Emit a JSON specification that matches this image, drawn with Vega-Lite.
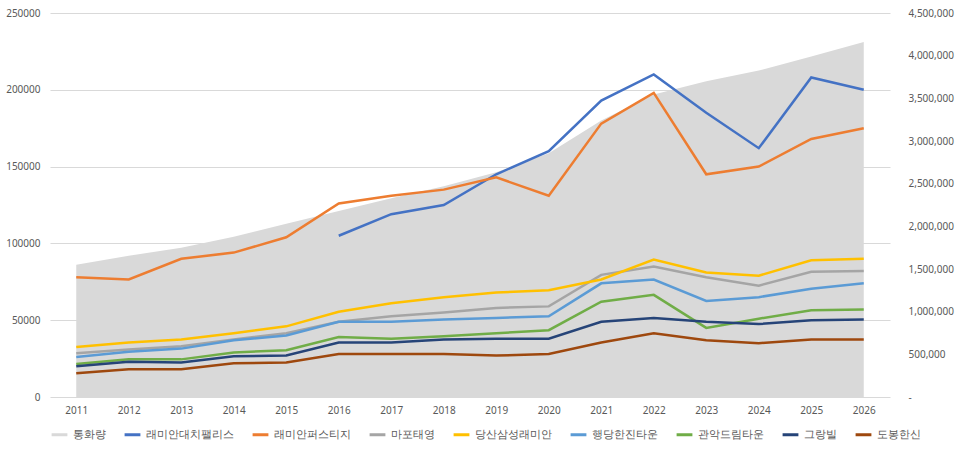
{
  "$schema": "https://vega.github.io/schema/vega-lite/v6.json",
  "width": 840,
  "height": 384,
  "padding": {"left": 5, "top": 8, "right": 5, "bottom": 5},
  "background": "white",
  "data": {
    "values": [
      {"year":"2011","s":"통화량","v":1550000},{"year":"2012","s":"통화량","v":1655000},{"year":"2013","s":"통화량","v":1750000},{"year":"2014","s":"통화량","v":1877000},{"year":"2015","s":"통화량","v":2030000},{"year":"2016","s":"통화량","v":2180000},{"year":"2017","s":"통화량","v":2330000},{"year":"2018","s":"통화량","v":2470000},{"year":"2019","s":"통화량","v":2635000},{"year":"2020","s":"통화량","v":2855000},{"year":"2021","s":"통화량","v":3240000},{"year":"2022","s":"통화량","v":3545000},{"year":"2023","s":"통화량","v":3700000},{"year":"2024","s":"통화량","v":3825000},{"year":"2025","s":"통화량","v":3990000},{"year":"2026","s":"통화량","v":4160000},
      {"year":"2016","s":"래미안대치팰리스","v":105000},{"year":"2017","s":"래미안대치팰리스","v":119000},{"year":"2018","s":"래미안대치팰리스","v":125000},{"year":"2019","s":"래미안대치팰리스","v":145000},{"year":"2020","s":"래미안대치팰리스","v":160000},{"year":"2021","s":"래미안대치팰리스","v":193000},{"year":"2022","s":"래미안대치팰리스","v":210000},{"year":"2023","s":"래미안대치팰리스","v":185000},{"year":"2024","s":"래미안대치팰리스","v":162000},{"year":"2025","s":"래미안대치팰리스","v":208000},{"year":"2026","s":"래미안대치팰리스","v":200000},
      {"year":"2011","s":"래미안퍼스티지","v":78000},{"year":"2012","s":"래미안퍼스티지","v":76500},{"year":"2013","s":"래미안퍼스티지","v":90000},{"year":"2014","s":"래미안퍼스티지","v":94000},{"year":"2015","s":"래미안퍼스티지","v":104000},{"year":"2016","s":"래미안퍼스티지","v":126000},{"year":"2017","s":"래미안퍼스티지","v":131000},{"year":"2018","s":"래미안퍼스티지","v":135000},{"year":"2019","s":"래미안퍼스티지","v":143000},{"year":"2020","s":"래미안퍼스티지","v":131000},{"year":"2021","s":"래미안퍼스티지","v":178000},{"year":"2022","s":"래미안퍼스티지","v":198000},{"year":"2023","s":"래미안퍼스티지","v":145000},{"year":"2024","s":"래미안퍼스티지","v":150000},{"year":"2025","s":"래미안퍼스티지","v":168000},{"year":"2026","s":"래미안퍼스티지","v":175000},
      {"year":"2011","s":"마포태영","v":28500},{"year":"2012","s":"마포태영","v":31000},{"year":"2013","s":"마포태영","v":33000},{"year":"2014","s":"마포태영","v":37500},{"year":"2015","s":"마포태영","v":41500},{"year":"2016","s":"마포태영","v":49000},{"year":"2017","s":"마포태영","v":52500},{"year":"2018","s":"마포태영","v":55000},{"year":"2019","s":"마포태영","v":58000},{"year":"2020","s":"마포태영","v":59000},{"year":"2021","s":"마포태영","v":79500},{"year":"2022","s":"마포태영","v":85000},{"year":"2023","s":"마포태영","v":78000},{"year":"2024","s":"마포태영","v":72500},{"year":"2025","s":"마포태영","v":81500},{"year":"2026","s":"마포태영","v":82000},
      {"year":"2011","s":"당산삼성래미안","v":32500},{"year":"2012","s":"당산삼성래미안","v":35500},{"year":"2013","s":"당산삼성래미안","v":37500},{"year":"2014","s":"당산삼성래미안","v":41500},{"year":"2015","s":"당산삼성래미안","v":46000},{"year":"2016","s":"당산삼성래미안","v":55500},{"year":"2017","s":"당산삼성래미안","v":61000},{"year":"2018","s":"당산삼성래미안","v":65000},{"year":"2019","s":"당산삼성래미안","v":68000},{"year":"2020","s":"당산삼성래미안","v":69500},{"year":"2021","s":"당산삼성래미안","v":76500},{"year":"2022","s":"당산삼성래미안","v":89500},{"year":"2023","s":"당산삼성래미안","v":81000},{"year":"2024","s":"당산삼성래미안","v":79000},{"year":"2025","s":"당산삼성래미안","v":89000},{"year":"2026","s":"당산삼성래미안","v":90000},
      {"year":"2011","s":"행당한진타운","v":26000},{"year":"2012","s":"행당한진타운","v":29500},{"year":"2013","s":"행당한진타운","v":31500},{"year":"2014","s":"행당한진타운","v":37000},{"year":"2015","s":"행당한진타운","v":40000},{"year":"2016","s":"행당한진타운","v":49000},{"year":"2017","s":"행당한진타운","v":49000},{"year":"2018","s":"행당한진타운","v":50500},{"year":"2019","s":"행당한진타운","v":51500},{"year":"2020","s":"행당한진타운","v":52500},{"year":"2021","s":"행당한진타운","v":74000},{"year":"2022","s":"행당한진타운","v":76500},{"year":"2023","s":"행당한진타운","v":62500},{"year":"2024","s":"행당한진타운","v":65000},{"year":"2025","s":"행당한진타운","v":70500},{"year":"2026","s":"행당한진타운","v":74000},
      {"year":"2011","s":"관악드림타운","v":21500},{"year":"2012","s":"관악드림타운","v":24500},{"year":"2013","s":"관악드림타운","v":24500},{"year":"2014","s":"관악드림타운","v":29000},{"year":"2015","s":"관악드림타운","v":30500},{"year":"2016","s":"관악드림타운","v":39000},{"year":"2017","s":"관악드림타운","v":38000},{"year":"2018","s":"관악드림타운","v":39500},{"year":"2019","s":"관악드림타운","v":41500},{"year":"2020","s":"관악드림타운","v":43500},{"year":"2021","s":"관악드림타운","v":62000},{"year":"2022","s":"관악드림타운","v":66500},{"year":"2023","s":"관악드림타운","v":45000},{"year":"2024","s":"관악드림타운","v":51000},{"year":"2025","s":"관악드림타운","v":56500},{"year":"2026","s":"관악드림타운","v":57000},
      {"year":"2011","s":"그랑빌","v":20000},{"year":"2012","s":"그랑빌","v":23000},{"year":"2013","s":"그랑빌","v":22500},{"year":"2014","s":"그랑빌","v":26500},{"year":"2015","s":"그랑빌","v":27000},{"year":"2016","s":"그랑빌","v":35500},{"year":"2017","s":"그랑빌","v":35500},{"year":"2018","s":"그랑빌","v":37500},{"year":"2019","s":"그랑빌","v":38000},{"year":"2020","s":"그랑빌","v":38000},{"year":"2021","s":"그랑빌","v":49000},{"year":"2022","s":"그랑빌","v":51500},{"year":"2023","s":"그랑빌","v":49000},{"year":"2024","s":"그랑빌","v":47500},{"year":"2025","s":"그랑빌","v":50000},{"year":"2026","s":"그랑빌","v":50500},
      {"year":"2011","s":"도봉한신","v":15500},{"year":"2012","s":"도봉한신","v":18000},{"year":"2013","s":"도봉한신","v":18000},{"year":"2014","s":"도봉한신","v":22000},{"year":"2015","s":"도봉한신","v":22500},{"year":"2016","s":"도봉한신","v":28000},{"year":"2017","s":"도봉한신","v":28000},{"year":"2018","s":"도봉한신","v":28000},{"year":"2019","s":"도봉한신","v":27000},{"year":"2020","s":"도봉한신","v":28000},{"year":"2021","s":"도봉한신","v":35500},{"year":"2022","s":"도봉한신","v":41500},{"year":"2023","s":"도봉한신","v":37000},{"year":"2024","s":"도봉한신","v":35000},{"year":"2025","s":"도봉한신","v":37500},{"year":"2026","s":"도봉한신","v":37500}
    ]
  },
  "encoding": {
    "x": {
      "field": "year", "type": "ordinal", "title": null,
      "scale": {"type": "point", "padding": 0.5},
      "axis": {"labelAngle": 0, "domain": false, "ticks": false, "labelPadding": 8}
    },
    "color": {
      "field": "s", "type": "nominal", "title": null,
      "scale": {
        "domain": ["통화량","래미안대치팰리스","래미안퍼스티지","마포태영","당산삼성래미안","행당한진타운","관악드림타운","그랑빌","도봉한신"],
        "range": ["#d9d9d9","#4472c4","#ed7d31","#a5a5a5","#ffc000","#5b9bd5","#70ad47","#264478","#9e480e"]
      },
      "legend": {"orient": "bottom", "direction": "horizontal", "columns": 9, "symbolType": "stroke", "symbolStrokeWidth": 3, "symbolSize": 250, "labelFontSize": 11, "labelColor": "#595959", "columnPadding": 12, "offset": 10}
    }
  },
  "layer": [
    {
      "transform": [{"filter": "datum.s == '통화량'"}],
      "mark": {"type": "area", "opacity": 1},
      "encoding": {
        "y": {
          "field": "v", "type": "quantitative", "title": null,
          "scale": {"domain": [0, 4500000]},
          "axis": {"orient": "right", "values": [0,500000,1000000,1500000,2000000,2500000,3000000,3500000,4000000,4500000], "labelExpr": "datum.value == 0 ? '-' : format(datum.value, ',')", "grid": false, "domain": false, "ticks": false, "labelPadding": 18}
        }
      }
    },
    {
      "transform": [{"filter": "datum.s != '통화량'"}],
      "mark": {"type": "line", "strokeWidth": 2.5},
      "encoding": {
        "y": {
          "field": "v", "type": "quantitative", "title": null,
          "scale": {"domain": [0, 250000]},
          "axis": {"orient": "left", "values": [0,50000,100000,150000,200000,250000], "format": "d", "grid": true, "gridColor": "#d9d9d9", "domain": false, "ticks": false, "labelPadding": 10}
        }
      }
    }
  ],
  "resolve": {"scale": {"y": "independent"}},
  "config": {
    "font": "Noto Sans",
    "view": {"stroke": null},
    "axis": {"labelFontSize": 10, "labelColor": "#595959"}
  }
}
